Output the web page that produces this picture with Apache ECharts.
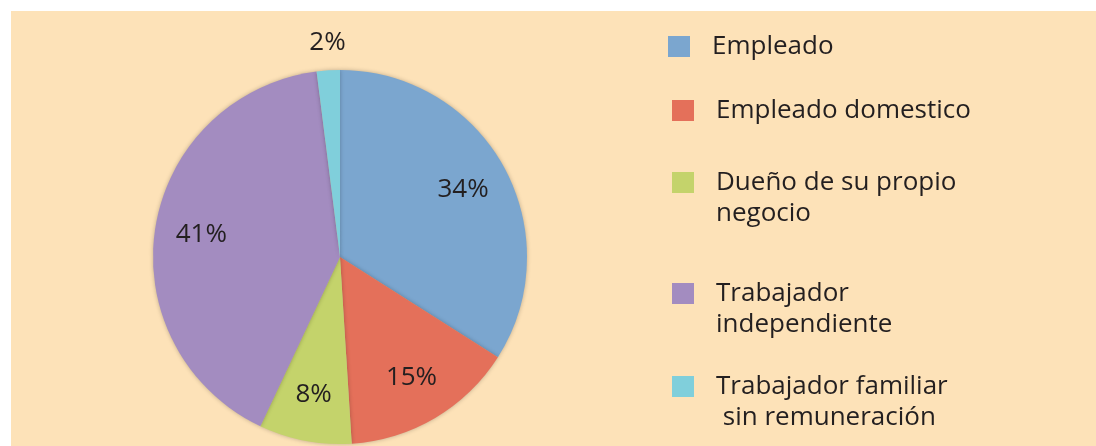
<!DOCTYPE html>
<html>
<head>
    <meta charset="utf-8">
    <title>Ocupación</title>
    <script src="https://cdn.jsdelivr.net/npm/echarts@6/dist/echarts.min.js"></script>
    <style>
        body { margin: 0; background: #ffffff; }
        #main { position: absolute; left: 11px; top: 11px; width: 1085px; height: 435px; }
    </style>
</head>
<body>
    <div id="main"></div>
    <script type="text/javascript">
        // datos del gráfico
        var categorias = ['Empleado', 'Empleado domestico', 'Dueño de su propio negocio',
            'Trabajador independiente', 'Trabajador familiar sin remuneración'];
        var etiquetasLeyenda = ['Empleado', 'Empleado domestico', 'Dueño de su propio\nnegocio',
            'Trabajador\nindependiente', 'Trabajador familiar\n sin remuneración'];
        var valores = [34, 15, 8, 41, 2];
        var colores = ['#7ba6cf', '#e4705a', '#c4d36b', '#a38cc0', '#80cfdb'];

        var fuente = 'Open Sans';
        var R = 187;
        var centro = [329, 246];

        var myChart = echarts.init(document.getElementById('main'));

        var datosPie = categorias.map(function (c, i) {
            return {
                name: c, value: valores[i],
                itemStyle: { color: colores[i] },
                label: { show: valores[i] < 5 }
            };
        });
        // serie auxiliar transparente solo para colocar las etiquetas interiores
        var datosEtiquetas = categorias.map(function (c, i) {
            return {
                name: c, value: valores[i],
                label: { show: valores[i] >= 5 }
            };
        });

        // una leyenda por elemento para respetar la separación del original
        var topsLeyenda = [20, 84, 125, 236, 329];
        var leyendas = categorias.map(function (c, i) {
            var texto = etiquetasLeyenda[i];
            // línea vacía arriba: el icono queda a la altura de la primera línea
            if (texto.indexOf('\n') >= 0) texto = '\n' + texto;
            return {
                data: [c],
                orient: 'vertical',
                left: i === 0 ? 657 : 661,
                top: topsLeyenda[i],
                padding: 0,
                icon: 'rect',
                itemWidth: 22,
                itemHeight: 21,
                selectedMode: false,
                formatter: function () { return texto; },
                textStyle: {
                    fontFamily: fuente,
                    fontSize: 26,
                    lineHeight: 31,
                    color: '#231f20',
                    padding: [0, 0, 0, 17]
                }
            };
        });

        var option = {
            backgroundColor: '#fde2b8',
            animation: false,
            legend: leyendas,
            series: [
                {
                    type: 'pie',
                    center: centro,
                    radius: [0, R],
                    startAngle: 90,
                    clockwise: true,
                    data: datosPie,
                    itemStyle: {
                        shadowBlur: 4,
                        shadowColor: 'rgba(0,0,0,0.25)'
                    },
                    label: {
                        position: 'outside',
                        formatter: '{c}%',
                        fontFamily: fuente,
                        fontSize: 26,
                        color: '#231f20'
                    },
                    labelLine: { show: false, length: 28, length2: 0 },
                    labelLayout: { align: 'center', dx: 6 },
                    emphasis: { disabled: true }
                },
                {
                    type: 'pie',
                    silent: true,
                    center: centro,
                    radius: [0, R * 1.47],
                    startAngle: 90,
                    clockwise: true,
                    data: datosEtiquetas,
                    itemStyle: { color: 'rgba(0,0,0,0)' },
                    label: {
                        position: 'inside',
                        formatter: '{c}%',
                        fontFamily: fuente,
                        fontSize: 26,
                        color: '#231f20'
                    },
                    labelLine: { show: false }
                }
            ]
        };

        myChart.setOption(option);
    </script>
</body>
</html>
